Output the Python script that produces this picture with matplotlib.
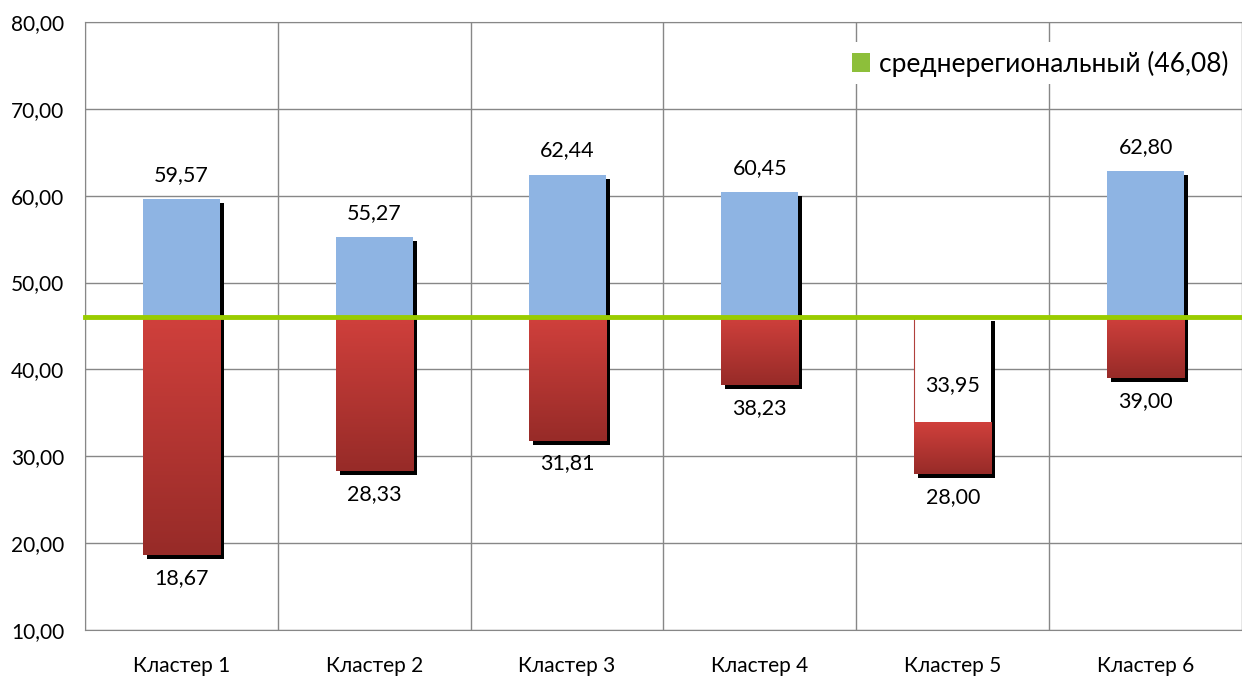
import matplotlib
matplotlib.use('Agg')
from matplotlib import pyplot as plt
from matplotlib.patches import Rectangle
from matplotlib.colors import LinearSegmentedColormap
from matplotlib.transforms import ScaledTranslation
import numpy as np

plt.rcParams['font.family'] = ['Lato', 'DejaVu Sans']

categories = ['Кластер 1', 'Кластер 2', 'Кластер 3', 'Кластер 4', 'Кластер 5', 'Кластер 6']
highs = [59.57, 55.27, 62.44, 60.45, 33.95, 62.80]
lows = [18.67, 28.33, 31.81, 38.23, 28.00, 39.00]
average = 46.08
legend_label = 'среднерегиональный (46,08)'

blue = '#8EB4E3'
red_cmap = LinearSegmentedColormap.from_list('reds', ['#972B28', '#D0403C'])
green = '#99CC00'


def fmt(v):
    return f'{v:.2f}'.replace('.', ',')


fig = plt.figure(figsize=(12.42, 6.8), dpi=100)
ax = fig.add_axes([85 / 1242, 1 - 630 / 680, 1 - 85 / 1242, (630 - 22) / 680])

w = 0.40
shadow = ax.transData + ScaledTranslation(4 / 100, -4 / 100, fig.dpi_scale_trans)
grad = np.linspace(0, 1, 256).reshape(-1, 1)

for i, (hi, lo) in enumerate(zip(highs, lows)):
    x0 = i - w / 2
    top = max(hi, average)
    # shadow behind the whole bar
    ax.add_patch(Rectangle((x0, lo), w, top - lo, facecolor='black', edgecolor='none',
                           transform=shadow, zorder=2))
    if hi > average:
        ax.add_patch(Rectangle((x0, average), w, hi - average, facecolor=blue,
                               edgecolor='none', zorder=3))
        red_top = average
    else:
        ax.add_patch(Rectangle((x0, hi), w, average - hi, facecolor='white',
                               edgecolor='none', zorder=3))
        ax.plot([x0, x0], [hi, average], color='#B0403C', lw=0.8, zorder=4)
        red_top = hi
    ax.imshow(grad, extent=[x0, x0 + w, lo, red_top], origin='lower', aspect='auto',
              cmap=red_cmap, zorder=3)
    off = 24 if hi > average else 37
    ax.annotate(fmt(hi), (i, hi), xytext=(0, off), textcoords='offset pixels',
                ha='center', va='center', fontsize=15.5, color='black', zorder=5)
    ax.annotate(fmt(lo), (i, lo), xytext=(0, -23), textcoords='offset pixels',
                ha='center', va='center', fontsize=15.5, color='black', zorder=5)

ax.axhline(average, color=green, lw=3.5, zorder=4, label=legend_label, clip_on=False)

ax.set_xlim(-0.5, -0.5 + (1242 - 85) / 194.25)
ax.set_ylim(10, 80)
ax.set_yticks(np.arange(10, 81, 10))
ax.set_yticklabels([fmt(v) for v in np.arange(10, 81, 10)], fontsize=15)
ax.set_xticks(range(len(categories)))
ax.set_xticklabels(categories, fontsize=15)
ax.set_xticks(np.arange(-0.5, 6, 1), minor=True)
ax.tick_params(axis='x', which='both', length=0, pad=19)
ax.tick_params(axis='y', length=0, pad=15)
ax.grid(axis='y', which='major', color='#878787', lw=1, zorder=1)
ax.grid(axis='x', which='minor', color='#878787', lw=1, zorder=1)
for s in ['left', 'bottom', 'top']:
    ax.spines[s].set_color('#878787')
ax.spines['right'].set_visible(False)

h = Rectangle((0, 0), 1, 1, facecolor='#8DBF3A', edgecolor='none')
leg = ax.legend([h], [legend_label], loc='upper right', bbox_to_anchor=(1.0, 0.975),
                frameon=True, fontsize=19, handlelength=0.7, handleheight=0.7,
                handletextpad=0.35, borderaxespad=0.2, borderpad=0.3, fancybox=False)
leg.get_frame().set_facecolor('white')
leg.get_frame().set_edgecolor('none')
leg.get_frame().set_alpha(1)

fig.savefig('out.png', dpi=100)
